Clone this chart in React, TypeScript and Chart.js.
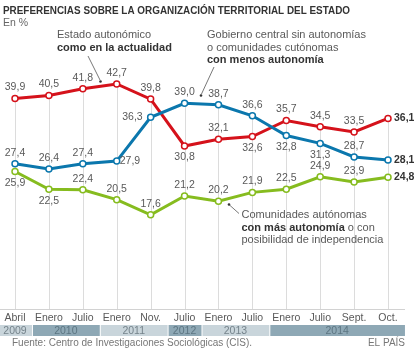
import React, { useEffect, useRef } from "react";
import { Chart, registerables } from "chart.js";

Chart.register(...registerables);

const categories = ["Abril", "Enero", "Julio", "Enero", "Nov.", "Julio", "Enero", "Julio", "Enero", "Julio", "Sept.", "Oct."];
const years = [
  { label: "2009", from: 0, to: 0, dark: false },
  { label: "2010", from: 1, to: 2, dark: true },
  { label: "2011", from: 3, to: 4, dark: false },
  { label: "2012", from: 5, to: 5, dark: true },
  { label: "2013", from: 6, to: 7, dark: false },
  { label: "2014", from: 8, to: 11, dark: true },
];
const actual = [39.9, 40.5, 41.8, 42.7, 39.8, 30.8, 32.1, 32.6, 35.7, 34.5, 33.5, 36.1];
const menos = [27.4, 26.4, 27.4, 27.9, 36.3, 39.0, 38.7, 36.6, 32.8, 31.3, 28.7, 28.1];
const mas = [25.9, 22.5, 22.4, 20.5, 17.6, 21.2, 20.2, 21.9, 22.5, 24.9, 23.9, 24.8];
// label placement: a=above, b=below, l=left, r=right, e=end (bold, right)
const actualPos = ["a", "a", "a", "a", "a", "b", "a", "b", "a", "a", "a", "e"];
const menosPos = ["a", "a", "a", "r", "l", "a", "a", "a", "b", "b", "a", "e"];
const masPos = ["b", "b", "a", "a", "a", "a", "a", "a", "a", "a", "a", "e"];

const RED = "#d5121b";
const BLUE = "#0b77ad";
const GREEN = "#86bc1f";
const FONT = "'Liberation Sans', Arial, sans-serif";

const fmt = (v: number) => v.toFixed(1).replace(".", ",");

const overlay = {
  id: "overlay",
  beforeDatasetsDraw(chart: any) {
    const ctx = chart.ctx;
    const xs = chart.scales.x;
    const ys = chart.scales.y;
    ctx.save();
    ctx.strokeStyle = "#dcdcdc";
    ctx.lineWidth = 1;
    categories.forEach((_, i) => {
      const x = Math.round(xs.getPixelForValue(i)) + 0.5;
      const top = ys.getPixelForValue(Math.max(actual[i], menos[i], mas[i]));
      ctx.beginPath();
      ctx.moveTo(x, top);
      ctx.lineTo(x, 309);
      ctx.stroke();
    });
    ctx.strokeStyle = "#d2d2d2";
    ctx.beginPath();
    ctx.moveTo(0, 309.5);
    ctx.lineTo(405, 309.5);
    ctx.stroke();
    ctx.restore();
  },
  afterDatasetsDraw(chart: any) {
    const ctx = chart.ctx;
    const xs = chart.scales.x;
    const ys = chart.scales.y;
    ctx.save();
    const step = xs.getPixelForValue(1) - xs.getPixelForValue(0);
    const drawSet = (vals: number[], pos: string[]) => {
      vals.forEach((v, i) => {
        const x = xs.getPixelForValue(i);
        const y = ys.getPixelForValue(v);
        const p = pos[i];
        ctx.textBaseline = "middle";
        if (p === "e") {
          ctx.font = `bold 10.5px ${FONT}`;
          ctx.fillStyle = "#333";
          ctx.textAlign = "left";
          ctx.fillText(fmt(v), x + 6, y);
          return;
        }
        ctx.font = `10.5px ${FONT}`;
        ctx.fillStyle = "#595959";
        if (p === "a") {
          ctx.textAlign = "center";
          ctx.fillText(fmt(v), x, y - 11);
        } else if (p === "b") {
          ctx.textAlign = "center";
          ctx.fillText(fmt(v), x, y + 11.5);
        } else if (p === "r") {
          ctx.textAlign = "left";
          ctx.fillText(fmt(v), x + 3, y);
        } else {
          ctx.textAlign = "right";
          ctx.fillText(fmt(v), x - 8, y);
        }
      });
    };
    drawSet(actual, actualPos);
    drawSet(menos, menosPos);
    drawSet(mas, masPos);

    ctx.font = `10.5px ${FONT}`;
    ctx.fillStyle = "#595959";
    ctx.textAlign = "center";
    ctx.textBaseline = "middle";
    categories.forEach((c, i) => {
      ctx.fillText(c, xs.getPixelForValue(i), 318.5);
    });
    years.forEach((yr) => {
      const x0 = xs.getPixelForValue(yr.from) - step / 2;
      const x1 = xs.getPixelForValue(yr.to) + step / 2;
      const left = yr.from === 0 ? 0 : x0 + 1;
      ctx.fillStyle = yr.dark ? "#8ea8b5" : "#c9d5db";
      ctx.fillRect(left, 325, x1 - left, 11);
      ctx.fillStyle = yr.dark ? "#5c7582" : "#75838b";
      ctx.font = `10.5px ${FONT}`;
      ctx.fillText(yr.label, (x0 + x1) / 2, 331);
    });

    ctx.textAlign = "left";
    ctx.textBaseline = "middle";
    ctx.fillStyle = "#333";
    ctx.font = `bold 11px ${FONT}`;
    ctx.fillText("PREFERENCIAS SOBRE LA ORGANIZACIÓN TERRITORIAL DEL ESTADO", 3, 10.5, 347);
    ctx.fillStyle = "#666";
    ctx.font = `10.5px ${FONT}`;
    ctx.fillText("En %", 3, 23.5);

    const lines = (x: number, y: number, parts: [string, boolean][][]) => {
      parts.forEach((row, r) => {
        let cx = x;
        row.forEach(([t, b]) => {
          ctx.font = `${b ? "bold " : ""}11px ${FONT}`;
          ctx.fillStyle = b ? "#333" : "#595959";
          ctx.fillText(t, cx, y + r * 12.5);
          cx += ctx.measureText(t).width;
        });
      });
    };
    lines(57, 35, [[["Estado autonómico", false]], [["como en la actualidad", true]]]);
    lines(207, 35, [
      [["Gobierno central sin autonomías", false]],
      [["o comunidades cutónomas", false]],
      [["con menos autonomía", true]],
    ]);
    lines(241.5, 215, [
      [["Comunidades autónomas", false]],
      [["con más autonomía", true], [" o con", false]],
      [["posibilidad de independencia", false]],
    ]);
    const leader = (x1: number, y1: number, x2: number, y2: number, dx: number, dy: number) => {
      ctx.strokeStyle = "#555";
      ctx.lineWidth = 0.8;
      ctx.beginPath();
      ctx.moveTo(x1, y1);
      ctx.lineTo(x2, y2);
      ctx.stroke();
      ctx.fillStyle = "#333";
      ctx.beginPath();
      ctx.arc(dx, dy, 1.3, 0, Math.PI * 2);
      ctx.fill();
    };
    leader(88, 56, 100, 80, 100.5, 81.5);
    leader(214, 67, 201.5, 94, 201, 95.5);
    leader(229.5, 205, 239, 213.5, 229, 204.5);

    ctx.font = `10px ${FONT}`;
    ctx.fillStyle = "#777";
    ctx.textAlign = "left";
    ctx.fillText("Fuente: Centro de Investigaciones Sociológicas (CIS).", 12, 343.5);
    ctx.textAlign = "right";
    ctx.fillText("EL PAÍS", 405, 343.5);
    ctx.restore();
  },
};

export default function App() {
  const ref = useRef<HTMLCanvasElement | null>(null);
  useEffect(() => {
    if (!ref.current) return;
    const ds = (data: number[], color: string) => ({
      data,
      borderColor: color,
      borderWidth: 3,
      pointRadius: 3,
      pointBorderWidth: 1.5,
      pointBackgroundColor: "#fff",
      pointBorderColor: color,
      tension: 0,
    });
    const chart = new Chart(ref.current, {
      type: "line",
      data: {
        labels: categories,
        datasets: [ds(mas, GREEN), ds(menos, BLUE), ds(actual, RED)],
      },
      options: {
        animation: false,
        responsive: false,
        devicePixelRatio: 1,
        layout: { padding: { left: 15, right: 26, top: 72, bottom: 53.5 } },
        plugins: { legend: { display: false }, tooltip: { enabled: false }, title: { display: false } },
        scales: {
          x: { type: "category", display: false, offset: false },
          y: { display: false, min: 0, max: 45 },
        },
      },
      plugins: [overlay],
    });
    return () => chart.destroy();
  }, []);
  return (
    <div style={{ position: "absolute", left: 0, top: 0, width: 414, height: 360, background: "#fff" }}>
      <canvas ref={ref} width={414} height={360} style={{ display: "block" }} />
    </div>
  );
}
